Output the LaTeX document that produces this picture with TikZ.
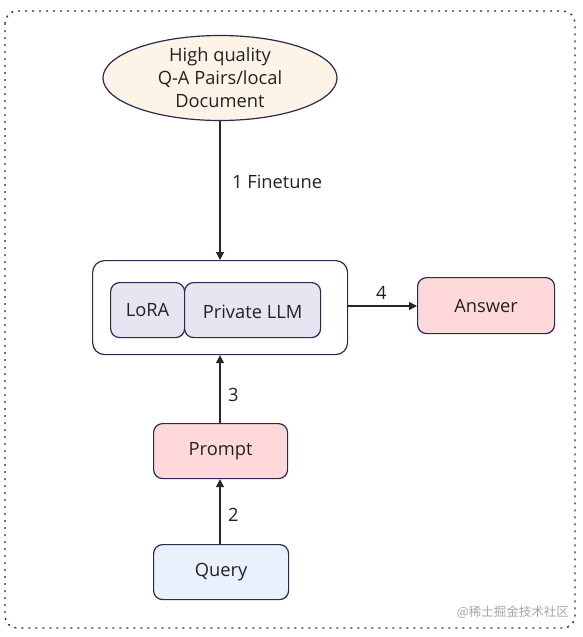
\documentclass[tikz,border=0pt]{standalone}
\usepackage{fontspec}
\setmainfont{Open Sans}
\newfontfamily\cjk{Noto Sans CJK SC}
\usetikzlibrary{shapes.geometric,arrows.meta}
\definecolor{edge}{HTML}{2A2A50}
\definecolor{beige}{HTML}{FDF3E6}
\definecolor{lav}{HTML}{E6E6F2}
\definecolor{pinkf}{HTML}{FFD9D9}
\definecolor{bluef}{HTML}{EAF0FC}
\definecolor{txt}{HTML}{222222}
\begin{document}
\begin{tikzpicture}[x=1pt,y=-1pt,
  every node/.style={font=\fontsize{18.3}{23}\selectfont, text=txt},
  box/.style={draw=edge, line width=1.2pt, rounded corners=9pt, inner sep=0pt, anchor=north west},
  conn/.style={draw=black!85, line width=1.2pt, -{Triangle[length=8pt,width=8pt]}},
  lbl/.style={anchor=west, inner sep=0pt}]
\useasboundingbox (0,0) rectangle (583,637);
\draw[black!80, line width=1.4pt, dash pattern=on 2pt off 5pt, rounded corners=12pt] (5,11) rectangle (575,628);
\node[draw=edge, line width=1.2pt, fill=beige, ellipse, minimum width=234pt, minimum height=75pt, inner sep=0pt, align=center] (src) at (220,78) {High quality\\Q-A Pairs/local\\Document};
\node[box, rounded corners=12pt, minimum width=255pt, minimum height=94pt] (outer) at (92,260) {};
\node[box, fill=lav, minimum width=74pt, minimum height=55pt] (lora) at (110,282) {};
\node at (lora.center) {LoRA};
\node[box, fill=lav, minimum width=136pt, minimum height=55pt] (llm) at (184,282) {};
\node at ([yshift=-2pt]llm.center) {Private LLM};
\node[box, fill=pinkf, minimum width=137pt, minimum height=56pt] (ans) at (417,277) {};
\node at (ans.center) {Answer};
\node[box, fill=pinkf, minimum width=134pt, minimum height=55pt] (prompt) at (153,423) {};
\node at (prompt.center) {Prompt};
\node[box, fill=bluef, minimum width=135pt, minimum height=55pt] (query) at (153,544) {};
\node at (query.center) {Query};
\draw[conn] (src.south) -- (src.south |- outer.north);
\draw[conn] (outer.east |- 0,306) coordinate (o4) -- (ans.west |- o4);
\draw[conn] (query.north -| 220,0) -- (prompt.south -| 220,0);
\draw[conn] (prompt.north -| 220,0) -- (outer.south -| 220,0);
\node[lbl] (l1) at (232,182) {1 Finetune};
\node[lbl] (l4) at (376,293) {4};
\node[lbl] (l3) at (228,395) {3};
\node[lbl] (l2) at (228,515) {2};
\node[anchor=east, inner sep=0pt, text=black!35, font=\cjk\fontsize{12.5}{14}\selectfont] (wm) at (569,612) {@稀土掘金技术社区};
\end{tikzpicture}
\end{document}
